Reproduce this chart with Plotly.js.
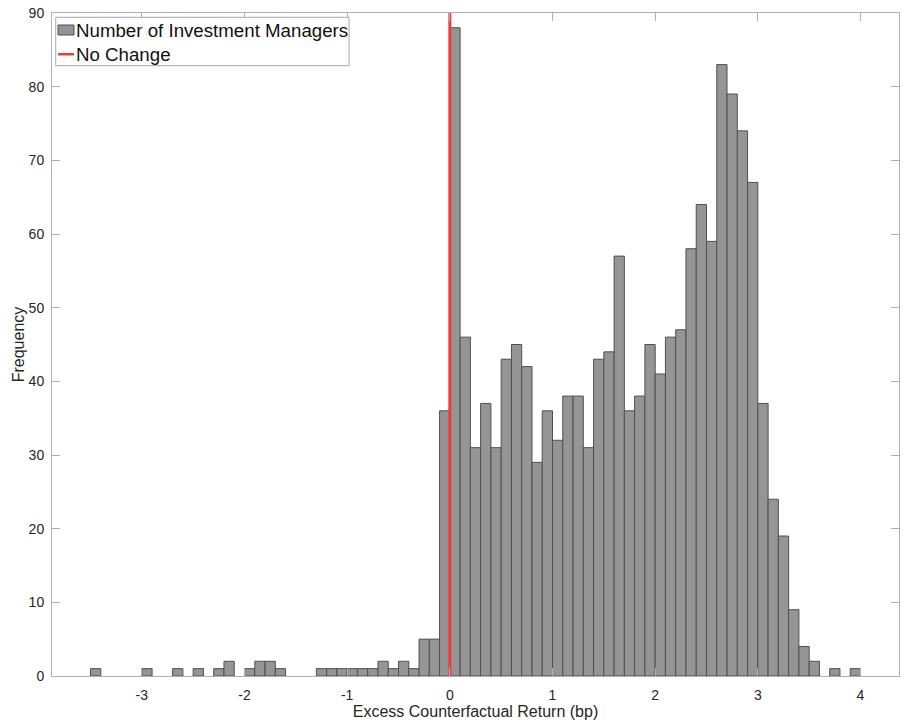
<!DOCTYPE html>
<html>
<head>
<meta charset="utf-8">
<script src="https://cdn.plot.ly/plotly-3.0.1.min.js"></script>
<style>
  html, body { margin: 0; padding: 0; background: #ffffff; }
  #chart { width: 906px; height: 727px; }
</style>
</head>
<body>
<div id="chart"></div>
<script>
// Histogram of excess counterfactual returns (bin width 0.1 bp), non-empty bins only
const binCenters = [
  -3.45, -2.95, -2.65, -2.45, -2.25, -2.15, -1.95, -1.85, -1.75, -1.65,
  -1.25, -1.15, -1.05, -0.95, -0.85, -0.75, -0.65, -0.55, -0.45, -0.35,
  -0.25, -0.15, -0.05, 0.05, 0.15, 0.25, 0.35, 0.45, 0.55, 0.65,
  0.75, 0.85, 0.95, 1.05, 1.15, 1.25, 1.35, 1.45, 1.55, 1.65,
  1.75, 1.85, 1.95, 2.05, 2.15, 2.25, 2.35, 2.45, 2.55, 2.65,
  2.75, 2.85, 2.95, 3.05, 3.15, 3.25, 3.35, 3.45, 3.55, 3.75,
  3.95
];
const managerCounts = [
  1, 1, 1, 1, 1, 2, 1, 2, 2, 1,
  1, 1, 1, 1, 1, 1, 2, 1, 2, 1,
  5, 5, 36, 88, 46, 31, 37, 31, 43, 45,
  42, 29, 36, 32, 38, 38, 31, 43, 44, 57,
  36, 38, 45, 41, 46, 47, 58, 64, 59, 83,
  79, 74, 67, 37, 24, 19, 9, 4, 2, 1,
  1
];
const binWidth = 0.1;

// Reference line at zero excess return
const noChangeX = [0, 0];
const noChangeY = [0, 90];

// Axis ticks
const xTickVals = [-3, -2, -1, 0, 1, 2, 3, 4];
const xTickText = ['-3', '-2', '-1', '0', '1', '2', '3', '4'];
const yTickVals = [0, 10, 20, 30, 40, 50, 60, 70, 80, 90];
const yTickText = ['0', '10', '20', '30', '40', '50', '60', '70', '80', '90'];

// Legend entries
const legendLabels = ['Number of Investment Managers', 'No Change'];

const FONT = 'Arial, "Liberation Sans", Helvetica, sans-serif';
const AXIS_GREY = '#b0b0b0';
const TEXT_COL = '#262626';
const BAR_FILL = '#959595';
const BAR_EDGE = '#505050';
const LINE_RED = '#f23a3a';

const traces = [
  {
    type: 'bar',
    name: legendLabels[0],
    x: binCenters,
    y: managerCounts,
    width: binWidth,
    marker: { color: BAR_FILL, line: { color: BAR_EDGE, width: 1 } },
    hoverinfo: 'x+y'
  },
  {
    type: 'scatter',
    mode: 'lines',
    name: legendLabels[1],
    x: noChangeX,
    y: noChangeY,
    line: { color: LINE_RED, width: 3 },
    hoverinfo: 'name'
  }
];

// Compact legend box in the top-left corner of the plot area (paper coordinates)
const legendShapes = [
  { type: 'rect', xref: 'paper', yref: 'paper', x0: 0.0044, x1: 0.3507, y0: 0.9205, y1: 0.9935,
    line: { color: '#a8a8a8', width: 1 }, fillcolor: '#ffffff', layer: 'above' },
  { type: 'rect', xref: 'paper', yref: 'paper', x0: 0.0071, x1: 0.0260, y0: 0.9668, y1: 0.9819,
    line: { color: BAR_EDGE, width: 1 }, fillcolor: BAR_FILL, layer: 'above' },
  { type: 'line', xref: 'paper', yref: 'paper', x0: 0.0071, x1: 0.0260, y0: 0.9378, y1: 0.9378,
    line: { color: LINE_RED, width: 2.5 }, layer: 'above' }
];
const legendText = [
  { xref: 'paper', yref: 'paper', x: 0.0255, y: 0.9730, xanchor: 'left', yanchor: 'middle',
    text: legendLabels[0], showarrow: false, font: { family: FONT, size: 18.7, color: '#111111' } },
  { xref: 'paper', yref: 'paper', x: 0.0255, y: 0.9380, xanchor: 'left', yanchor: 'middle',
    text: legendLabels[1], showarrow: false, font: { family: FONT, size: 18.7, color: '#111111' } }
];

const layout = {
  width: 906,
  height: 727,
  margin: { l: 52, r: 7, t: 13, b: 51, pad: 0 },
  paper_bgcolor: '#ffffff',
  plot_bgcolor: '#ffffff',
  bargap: 0,
  font: { family: FONT, size: 14, color: TEXT_COL },
  showlegend: false,
  shapes: legendShapes,
  annotations: legendText,
  xaxis: {
    range: [-3.875, 4.375],
    tickmode: 'array', tickvals: xTickVals, ticktext: xTickText,
    ticks: 'inside', ticklen: 8, tickwidth: 1, tickcolor: AXIS_GREY,
    showline: true, linecolor: AXIS_GREY, linewidth: 1, mirror: 'ticks',
    showgrid: false, zeroline: false,
    tickfont: { family: FONT, size: 14, color: TEXT_COL },
    ticklabelstandoff: 6,
    title: { text: 'Excess Counterfactual Return (bp)', font: { family: FONT, size: 16, color: TEXT_COL }, standoff: 4 }
  },
  yaxis: {
    range: [0, 90],
    tickmode: 'array', tickvals: yTickVals, ticktext: yTickText,
    ticks: 'inside', ticklen: 8, tickwidth: 1, tickcolor: AXIS_GREY,
    showline: true, linecolor: AXIS_GREY, linewidth: 1, mirror: 'ticks',
    showgrid: false, zeroline: false,
    tickfont: { family: FONT, size: 14, color: TEXT_COL },
    ticklabelstandoff: 4,
    title: { text: 'Frequency', font: { family: FONT, size: 16, color: TEXT_COL }, standoff: 0 }
  }
};

Plotly.newPlot('chart', traces, layout, { displayModeBar: false, staticPlot: true });
</script>
</body>
</html>
